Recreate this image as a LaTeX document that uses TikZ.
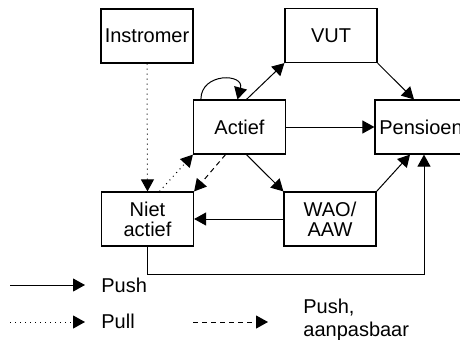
\documentclass[tikz,border=0pt]{standalone}
\usepackage{fontspec}
\setmainfont{Liberation Sans}
\usetikzlibrary{arrows.meta}

\tikzset{
	box/.style={draw, line width=0.6pt, inner sep=0pt, minimum width=46pt, minimum height=27pt, align=center, font=\fontsize{10}{10}\selectfont},
	push/.style={-{Triangle[length=6pt,width=6.5pt]}, line width=0.5pt},
	pull/.style={push, dotted},
	pushdash/.style={push, dash pattern=on 2.5pt off 2pt},
	legend/.style={anchor=west, inner sep=0pt, align=left, font=\fontsize{10}{11.5}\selectfont}
}

\begin{document}
\begin{tikzpicture}[x=0.5pt, y=-0.5pt]
		\clip (0,0) rectangle (460,339);
		\useasboundingbox (0,0) rectangle (460,339);
		
		\node [box] (instromer) at (147,36) {Instromer};
		\node [box] (vut) at (331,35.5) {VUT};
		\node [box] (actief) at (239.5,127) {Actief};
		\node [box] (pensioen) at (421,127) {Pensioen};
		\node [box] (niet) at (147.5,219) {Niet\\actief};
		\node [box] (wao) at (330,219) {WAO/\\AAW};
		
		% push
		\draw [push] ([xshift=3.5pt]actief.north) -- (vut.south west);
		\draw [push] (vut.south east) -- ([xshift=-3.5pt]pensioen.north);
		\draw [push] (actief.east) -- (pensioen.west);
		\draw [push] ([xshift=3.5pt]actief.south) -- (wao.north west);
		\draw [push] (wao.north east) -- ([xshift=-5.5pt]pensioen.south);
		\draw [push] (wao.west) -- (niet.east);
		\draw [push] ([xshift=4pt]actief.north west) to[out=90, in=75, looseness=1.9] ([xshift=-1pt]actief.north);
		
		\coordinate (bend) at (147.5,274);
		\draw [push] (niet.south) -- (bend) -| ([xshift=1.5pt]pensioen.south);
		
		% pull
		\draw [pull] (instromer.south) -- (niet.north);
		\draw [pull] ([xshift=6pt]niet.north) -- (actief.south west);
		
		% push, aanpasbaar
		\draw [pushdash] ([xshift=-7pt]actief.south) -- (niet.north east);
		
		% legenda
		\node [legend] (tpush) at (101,285) {Push};
		\node [legend] (tpull) at (101,321) {Pull};
		\node [legend] (tdash) at (303,320) {Push,\\aanpasbaar};
		
		\coordinate (lpush) at (10,285);
		\coordinate (lpull) at (10,322);
		\coordinate (ldash) at (193,322);
		\draw [push] (lpush) -- ++(75,0);
		\draw [pull] (lpull) -- ++(75,0);
		\draw [pushdash] (ldash) -- ++(75,0);
\end{tikzpicture}
\end{document}
